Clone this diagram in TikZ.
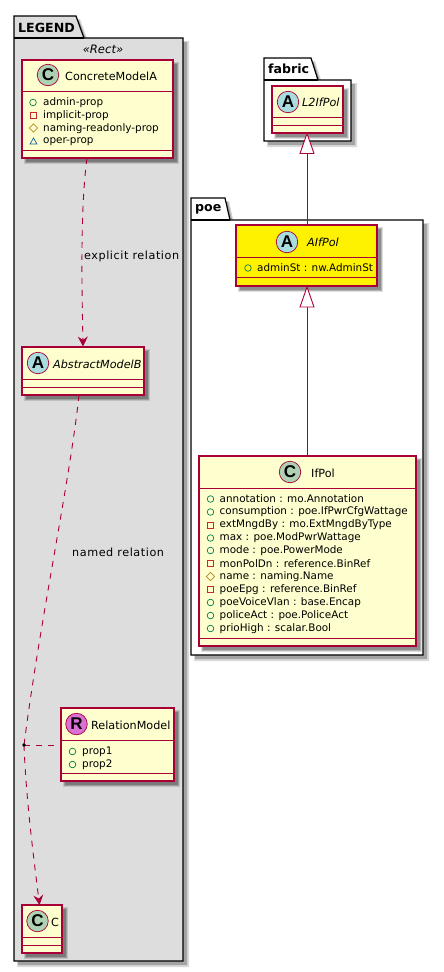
\documentclass[tikz,border=0pt]{standalone}
\usepackage{fontspec}
\setmainfont{DejaVu Sans}
\newfontfamily\spotfont{Liberation Sans}
\usetikzlibrary{arrows.meta,calc,shapes.geometric}
\definecolor{umlred}{HTML}{A80036}
\definecolor{umlfill}{HTML}{FEFECE}
\definecolor{pkgray}{HTML}{DDDDDD}
\definecolor{cspot}{HTML}{ADD1B2}
\definecolor{aspot}{HTML}{A9DCDF}
\definecolor{rspot}{HTML}{DA70D6}
\definecolor{pubc}{HTML}{038048}
\definecolor{privc}{HTML}{C82930}
\definecolor{protc}{HTML}{B38D22}
\definecolor{pkgc}{HTML}{1963A0}
\tikzset{
  x=1pt,y=-1pt,
  pkgbody/.style={draw=black,line width=1.2pt,fill=#1},
  divider/.style={draw=umlred,line width=1pt},
  classbox/.style={draw=umlred,line width=1.15pt,fill=#1,rectangle,inner sep=0pt,outer sep=0pt,anchor=north west},
  spot/.style={circle,draw=umlred,line width=.7pt,minimum size=21.5pt,inner sep=0pt,fill=#1,font=\spotfont\fontsize{17}{17}\selectfont\bfseries},
  cname/.style={anchor=west,inner sep=0pt,font=\fontsize{11.2}{13}\selectfont},
  iname/.style={anchor=west,inner sep=0pt,font=\fontsize{11.2}{13}\selectfont\itshape},
  attr/.style={anchor=west,inner sep=0pt,font=\fontsize{10.4}{12}\selectfont},
  pub/.style={circle,draw=pubc,line width=.7pt,minimum size=6.6pt,inner sep=0pt},
  priv/.style={rectangle,draw=privc,line width=.7pt,minimum size=6pt,inner sep=0pt},
  prot/.style={diamond,draw=protc,line width=.7pt,minimum size=8.6pt,inner sep=0pt},
  pkgv/.style={regular polygon,regular polygon sides=3,draw=pkgc,line width=.7pt,minimum size=9pt,inner sep=0pt},
  rel/.style={draw=umlred,line width=.9pt},
  reld/.style={rel,dash pattern=on 6pt off 6pt},
  vee/.style={-{Stealth[inset=3.5pt,length=10pt,width=10pt,umlred]}},
  tabtext/.style={anchor=west,inner sep=0pt,font=\fontsize{12.6}{14}\selectfont\bfseries},
  rellabel/.style={anchor=west,inner sep=0pt,font=\fontsize{11.2}{13}\selectfont\addfontfeature{LetterSpace=5}},
}
\newcommand{\softshadow}[4]{%
  \fill[black,opacity=.13] (#1+1.5,#2+1.5) rectangle (#3+6,#4+6);
  \fill[black,opacity=.18] (#1+2.5,#2+2.5) rectangle (#3+5,#4+5);
  \fill[black,opacity=.22] (#1+3.5,#2+3.5) rectangle (#3+4,#4+4);
}
\newcommand{\umlclass}[6]{% name x1 y1 x2 y2 fill
  \softshadow{#2}{#3}{#4}{#5}
  \pgfmathsetmacro{\bw}{#4-#2}\pgfmathsetmacro{\bh}{#5-#3}
  \node[classbox=#6,minimum width=\bw pt,minimum height=\bh pt] (#1) at (#2,#3) {};
}
\begin{document}
\begin{tikzpicture}
\useasboundingbox (0,0) rectangle (444,972);
% package shadows
\fill[black,opacity=.15] (17,19) -- (80,19) -- (88,41) -- (189,41) -- (189,967) -- (17,967) -- cycle;
\fill[black,opacity=.25] (18,20) -- (79,20) -- (87,42) -- (187,42) -- (187,965) -- (18,965) -- cycle;
\fill[black,opacity=.15] (267,61) -- (315,61) -- (322,83) -- (357,83) -- (357,147) -- (267,147) -- cycle;
\fill[black,opacity=.25] (268,62) -- (314,62) -- (321,84) -- (355,84) -- (355,145) -- (268,145) -- cycle;
\fill[black,opacity=.15] (194,201) -- (229,201) -- (234,223) -- (429,223) -- (429,661) -- (194,661) -- cycle;
\fill[black,opacity=.25] (195,202) -- (228,202) -- (233,224) -- (427,224) -- (427,659) -- (195,659) -- cycle;
% packages
\path[pkgbody=pkgray] (14,38) -- (14,16) -- (76,16) -- (84,38) -- (183,38) -- (183,961) -- (14,961) -- cycle;
\draw[black,line width=1.2pt] (14,38) -- (84,38);
\path[pkgbody=white] (264,80) -- (264,58) -- (311,58) -- (318,80) -- (351,80) -- (351,141) -- (264,141) -- cycle;
\draw[black,line width=1.2pt] (264,80) -- (318,80);
\path[pkgbody=white] (191,220) -- (191,198) -- (225,198) -- (230,220) -- (423,220) -- (423,655) -- (191,655) -- cycle;
\draw[black,line width=1.2pt] (191,220) -- (230,220);
\node[tabtext] (tlegend) at (18,27.5) {LEGEND};
\node[tabtext] (tfabric) at (268,69) {fabric};
\node[tabtext] (tpoe) at (195,209) {poe};
\node[anchor=center,inner sep=0pt,font=\fontsize{11.6}{13}\selectfont\itshape] (stereo) at (103,49.5) {«Rect»};
% ConcreteModelA
\umlclass{boxa}{22}{60}{173}{158}{umlfill}
\draw[divider] (22,91) -- (173,91) (22,150.5) -- (173,150.5);
\node[spot=cspot] (sa) at (48,75) {C};
\node[cname] (na) at (65,76) {ConcreteModelA};
\node[pub] (m1) at (33,102.5) {}; \node[attr] (a1) at (43,102.5) {admin-prop};
\node[priv] (m2) at (33.5,115.5) {}; \node[attr] (a2) at (43,115.5) {implicit-prop};
\node[prot] (m3) at (33.5,128) {}; \node[attr] (a3) at (43,128.5) {naming-readonly-prop};
\node[pkgv,minimum size=8pt] (m4) at (33.5,142) {}; \node[attr] (a4) at (43,141.5) {oper-prop};
% AbstractModelB
\umlclass{boxb}{22}{347}{144}{395}{umlfill}
\draw[divider] (22,379) -- (144,379) (22,387) -- (144,387);
\node[spot=aspot] (sb) at (38,363) {A};
\node[iname] (nb) at (53,364) {AbstractModelB};
% RelationModel
\umlclass{boxr}{61}{708}{174}{781}{umlfill}
\draw[divider] (61,740) -- (174,740) (61,773) -- (174,773);
\node[spot=rspot] (sr) at (76.5,724) {R};
\node[cname] (nr) at (91,725) {RelationModel};
\node[pub] (mr1) at (72.5,751.5) {}; \node[attr] (ar1) at (82,751.5) {prop1};
\node[pub] (mr2) at (72.5,764.5) {}; \node[attr] (ar2) at (82,764.5) {prop2};
% C
\umlclass{boxc}{22}{905}{62}{953}{umlfill}
\draw[divider] (22,937) -- (62,937) (22,945) -- (62,945);
\node[spot=cspot] (sc) at (37.5,921) {C};
\node[cname] (nc) at (51,922) {C};
% L2IfPol
\umlclass{boxl}{272}{86}{343}{133}{umlfill}
\draw[divider] (272,117) -- (343,117) (272,125) -- (343,125);
\node[spot=aspot] (sl) at (288,102) {A};
\node[iname] (nl) at (302,102) {L2IfPol};
% AIfPol
\umlclass{boxf}{236}{225}{377}{286}{yellow}
\draw[divider] (236,257) -- (377,257) (236,277.5) -- (377,277.5);
\node[spot=aspot] (sf) at (287,242) {A};
\node[iname] (nf) at (307,242) {AIfPol};
\node[pub] (mf) at (248,268) {}; \node[attr] (af) at (257,268) {adminSt : nw.AdminSt};
% IfPol
\umlclass{boxi}{199}{456}{416}{646}{umlfill}
\draw[divider] (199,488) -- (416,488) (199,638) -- (416,638);
\node[spot=cspot] (si) at (290,472) {C};
\node[cname] (ni) at (311,473) {IfPol};
\foreach \nm/\yy/\kind/\txt in {
 i1/499/pub/{annotation : mo.Annotation},
 i2/512/pub/{consumption : poe.IfPwrCfgWattage},
 i3/525/priv/{extMngdBy : mo.ExtMngdByType},
 i4/538/pub/{max : poe.ModPwrWattage},
 i5/550.5/pub/{mode : poe.PowerMode},
 i6/563.5/priv/{monPolDn : reference.BinRef},
 i7/576.5/prot/{name : naming.Name},
 i8/589.5/priv/{poeEpg : reference.BinRef},
 i9/602.5/pub/{poeVoiceVlan : base.Encap},
 i10/615.5/pub/{policeAct : poe.PoliceAct},
 i11/628.5/pub/{prioHigh : scalar.Bool}}{
  \node[\kind] (m\nm) at (210.5,\yy) {};
  \node[attr] (a\nm) at (219.5,\yy) {\txt};
}
% connectors
\coordinate (dot) at (24,745);
\coordinate (aout) at ($(boxa.south)+(-10.5,0)$);
\coordinate (bout) at ($(boxb.south)+(-4,0)$);
\coordinate (cin) at ($(boxc.north)+(-2.5,0)$);
\draw[reld,vee] (aout) .. controls (80,210) and (82,290) .. ($(boxb.north)+(0,-.5)$);
\draw[reld] (bout) .. controls (70,480) and (40,620) .. (dot);
\draw[reld,vee] (dot) .. controls (26,800) and (34,860) .. (cin);
\draw[reld] (dot) -- (dot -| boxr.west);
\fill[black] (dot) circle (1.8pt);
\draw[rel] (307,153) -- (boxf.north -| 307,225);
\draw[rel,fill=white] (307,133.5) -- (314,153.5) -- (300,153.5) -- cycle;
\draw[rel] (307,307) -- (boxi.north -| 307,456);
\draw[rel,fill=white] (307,287) -- (314,307) -- (300,307) -- cycle;
\node[rellabel] (l1) at (84,256.5) {explicit relation};
\node[rellabel] (l2) at (72,552.5) {named relation};
\end{tikzpicture}
\end{document}
